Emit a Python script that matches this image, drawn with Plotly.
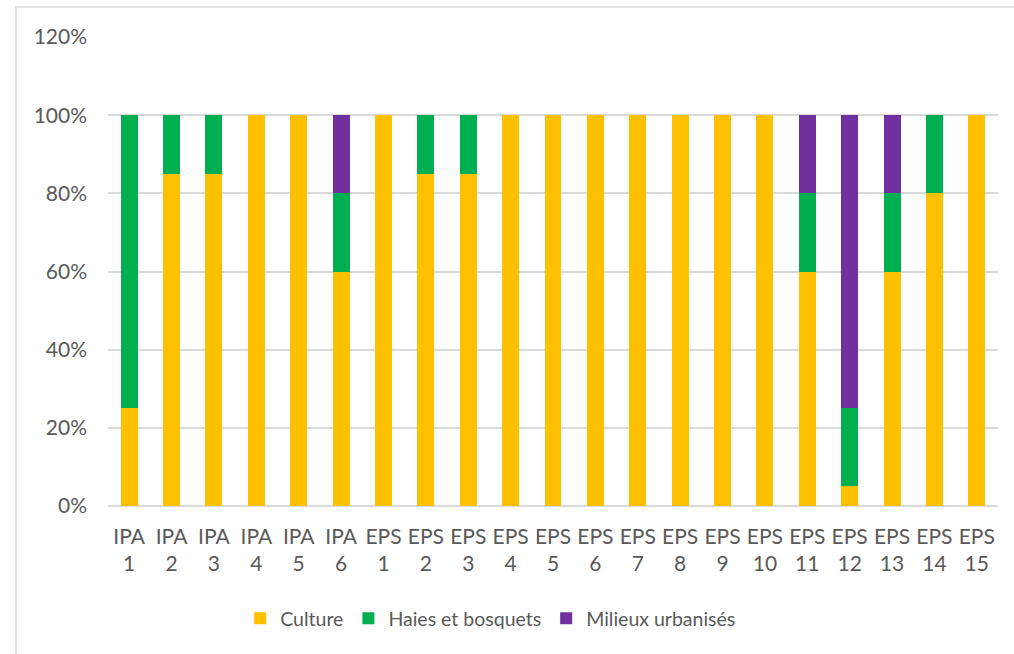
import plotly.graph_objects as go

categories = ["IPA<br>1", "IPA<br>2", "IPA<br>3", "IPA<br>4", "IPA<br>5", "IPA<br>6",
              "EPS<br>1", "EPS<br>2", "EPS<br>3", "EPS<br>4", "EPS<br>5", "EPS<br>6",
              "EPS<br>7", "EPS<br>8", "EPS<br>9", "EPS<br>10", "EPS<br>11", "EPS<br>12",
              "EPS<br>13", "EPS<br>14", "EPS<br>15"]
culture = [25, 85, 85, 100, 100, 60, 100, 85, 85, 100, 100, 100, 100, 100, 100, 100, 60, 5, 60, 80, 100]
haies = [75, 15, 15, 0, 0, 20, 0, 15, 15, 0, 0, 0, 0, 0, 0, 0, 20, 20, 20, 20, 0]
urbains = [0, 0, 0, 0, 0, 20, 0, 0, 0, 0, 0, 0, 0, 0, 0, 0, 20, 75, 20, 0, 0]
y_ticks = [0, 20, 40, 60, 80, 100, 120]
y_labels = ["0%", "20%", "40%", "60%", "80%", "100%", "120%"]

series = [("Culture", culture, "#FFC000"),
          ("Haies et bosquets", haies, "#00B050"),
          ("Milieux urbanisés", urbains, "#7030A0")]

fig = go.Figure()
for name, vals, col in series:
    fig.add_trace(go.Bar(x=categories, y=vals, name=name, marker_color=col,
                         marker_line_width=0, width=0.4))

W, H = 1014, 654
L, R, T, B = 108, 16, 37, 148
pw, ph = W - L - R, H - T - B

fig.update_layout(
    width=W, height=H, barmode="stack",
    margin=dict(l=L, r=R, t=T, b=B),
    paper_bgcolor="white", plot_bgcolor="white",
    font=dict(family="Lato, Open Sans, sans-serif", size=21, color="#595959"),
    legend=dict(orientation="h", x=0.43, xanchor="center", y=-0.24, yanchor="middle",
                font=dict(size=19.5, color="#595959"), traceorder="normal",
                itemwidth=30),
    xaxis=dict(showgrid=False, showline=False, ticks="", tickfont=dict(size=21),
               ticklabelstandoff=16),
    yaxis=dict(range=[0, 120], tickvals=y_ticks, ticktext=y_labels,
               showgrid=True, gridcolor="#d9d9d9", gridwidth=1.5,
               zeroline=True, zerolinecolor="#d9d9d9", zerolinewidth=1.5,
               showline=False, ticks="", ticklabelstandoff=20),
)

fig.add_shape(type="rect", xref="paper", yref="paper",
              x0=(16 - L) / pw, x1=(W + 10 - L) / pw,
              y0=(H - B - (H + 10)) / ph, y1=(H - B - 7) / ph,
              line=dict(color="#d9d9d9", width=1.5), fillcolor="rgba(0,0,0,0)", layer="below")

fig.write_html("out.html")
